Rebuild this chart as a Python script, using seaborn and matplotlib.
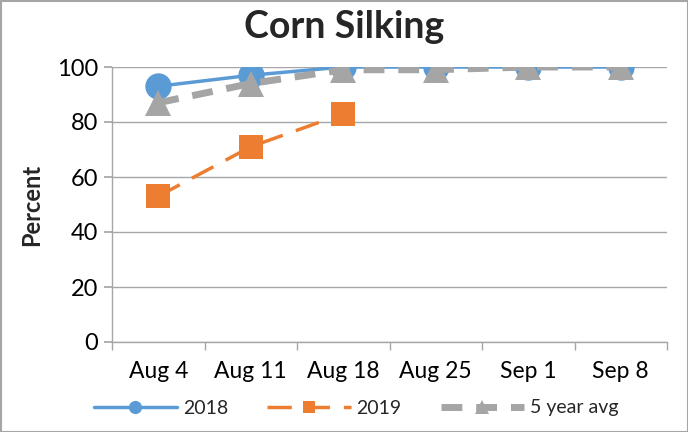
import matplotlib
matplotlib.use("Agg")
import matplotlib.pyplot as plt
import seaborn as sns
import pandas as pd
import numpy as np
from matplotlib.patches import Rectangle

categories = ["Aug 4", "Aug 11", "Aug 18", "Aug 25", "Sep 1", "Sep 8"]
y2018 = [93, 97, 100, 100, 100, 100]
y2019 = [53, 71, 83, None, None, None]
y5yr = [87, 94, 99, 99, 100, 100]

sns.set_theme(style="white")
plt.rcParams['font.family'] = ['Lato', 'DejaVu Sans']

fig = plt.figure(figsize=(6.88, 4.32), dpi=100)
ax = fig.add_axes([112/688, 1-342/432, (667-112)/688, (342-67)/432])

df = pd.DataFrame({"cat": categories, "2018": y2018, "2019": y2019, "5 year avg": y5yr})

sns.lineplot(data=df, x="cat", y="2018", ax=ax, color="#5B9BD5", lw=2.5,
             marker="o", markersize=19, markeredgewidth=0, label="2018", sort=False)
sns.lineplot(data=df.dropna(subset=["2019"]), x="cat", y="2019", ax=ax, color="#ED7D31", lw=2.5,
             linestyle=(0, (7, 4)), marker="s", markersize=17, markeredgewidth=0,
             label="2019", sort=False)
sns.lineplot(data=df, x="cat", y="5 year avg", ax=ax, color="#A5A5A5", lw=5,
             linestyle=(0, (3, 2)), marker="^", markersize=19, markeredgewidth=0,
             label="5 year avg", sort=False)

ax.set_xlim(-0.5, 5.5)
ax.set_ylim(0, 100)
ax.set_yticks(range(0, 101, 20))
ax.yaxis.grid(True, color="#A6A6A6", lw=1)
ax.set_axisbelow(True)
for s in ["top", "right"]:
    ax.spines[s].set_visible(False)
for s in ["left", "bottom"]:
    ax.spines[s].set_color("#A6A6A6")
    ax.spines[s].set_linewidth(1)
ax.set_xticks(range(len(categories)))
ax.set_xticklabels(categories)
ax.set_xticks(np.arange(-0.5, 6, 1), minor=True)
ax.tick_params(axis="x", which="major", length=0, labelsize=16.5, pad=14, colors="black")
ax.tick_params(axis="x", which="minor", length=6, color="#A6A6A6", direction="out", bottom=True)
ax.tick_params(axis="y", labelsize=17, length=6, color="#A6A6A6", left=True, pad=4, colors="black")
ax.set_xlabel("")
ax.set_ylabel("Percent", fontsize=17, fontweight="bold", labelpad=10)
fig.suptitle("Corn Silking", fontsize=27, fontweight="bold", x=0.5, y=1-10/432, va="top")

leg = ax.legend(loc="center", bbox_to_anchor=(356/688, 1-408/432), bbox_transform=fig.transFigure,
                ncol=3, frameon=False,
                fontsize=14, handlelength=4.3, columnspacing=2.0, markerscale=0.5,
                handletextpad=0.3)

fig.patches.append(Rectangle((0.5/688, 0.5/432), 1-1/688, 1-1/432, transform=fig.transFigure,
                             fill=False, edgecolor="#A6A6A6", lw=1.5))
fig.savefig("out.png", dpi=100)
